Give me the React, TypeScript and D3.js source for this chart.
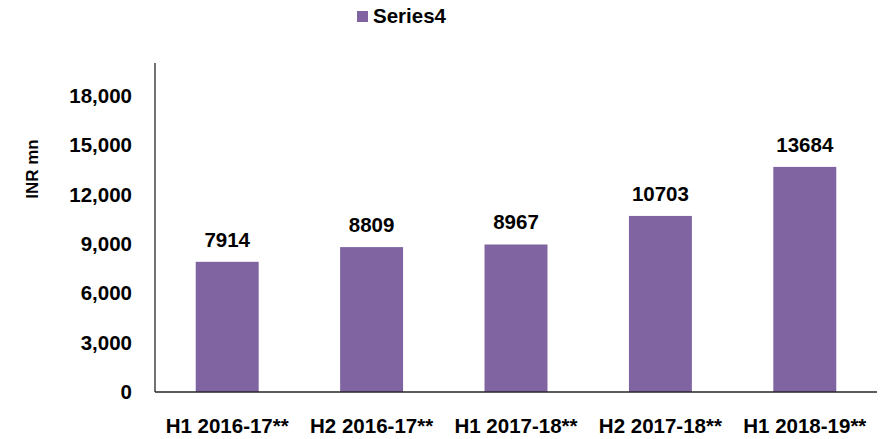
import React from 'react';
import * as d3 from 'd3';

const categories = ['H1 2016-17**', 'H2 2016-17**', 'H1 2017-18**', 'H2 2017-18**', 'H1 2018-19**'];
const values = [7914, 8809, 8967, 10703, 13684];
const yTicks = [0, 3000, 6000, 9000, 12000, 15000, 18000];
const seriesName = 'Series4';

const W = 885;
const H = 439;
const margin = { top: 63, right: 8, bottom: 47, left: 155 };
const barColor = '#8064A2';
const font = 'Arial, "Liberation Sans", sans-serif';

const App = () => {
  const innerW = W - margin.left - margin.right;
  const innerH = H - margin.top - margin.bottom;

  const x = d3.scaleBand<string>().domain(categories).range([0, innerW]);
  const y = d3.scaleLinear().domain([0, 20000]).range([innerH, 0]);
  const barW = x.bandwidth() * 0.436;
  const fmt = d3.format(',');

  return (
    <svg width={W} height={H} style={{ position: 'absolute', left: 0, top: 0 }} fontFamily={font}>
      {/* legend */}
      <rect x={357} y={11} width={11} height={11} fill={barColor} />
      <text x={373} y={23} fontSize={20.5} fontWeight="bold" fill="#000">{seriesName}</text>

      {/* y axis title */}
      <text
        transform={`translate(38,169) rotate(-90)`}
        textAnchor="middle"
        fontSize={17}
        fontWeight="bold"
      >
        INR mn
      </text>

      <g transform={`translate(${margin.left},${margin.top})`}>
        {yTicks.map(t => (
          <text key={t} x={-23} y={y(t)} dy="0.35em" textAnchor="end" fontSize={20.5} fontWeight="bold">
            {fmt(t)}
          </text>
        ))}

        {values.map((v, i) => {
          const cx = (x(categories[i]) ?? 0) + x.bandwidth() / 2;
          return (
            <g key={categories[i]}>
              <rect x={cx - barW / 2} y={y(v)} width={barW} height={innerH - y(v)} fill={barColor} />
              <text x={cx} y={y(v) - 15} textAnchor="middle" fontSize={20.5} fontWeight="bold">{v}</text>
              <text x={cx} y={innerH + 41} textAnchor="middle" fontSize={20.5} fontWeight="bold">{categories[i]}</text>
            </g>
          );
        })}

        <line x1={0} x2={0} y1={0} y2={innerH} stroke="#262626" strokeWidth={1.3} />
        <line x1={0} x2={innerW} y1={innerH} y2={innerH} stroke="#262626" strokeWidth={1.3} />
      </g>
    </svg>
  );
};

export default App;
